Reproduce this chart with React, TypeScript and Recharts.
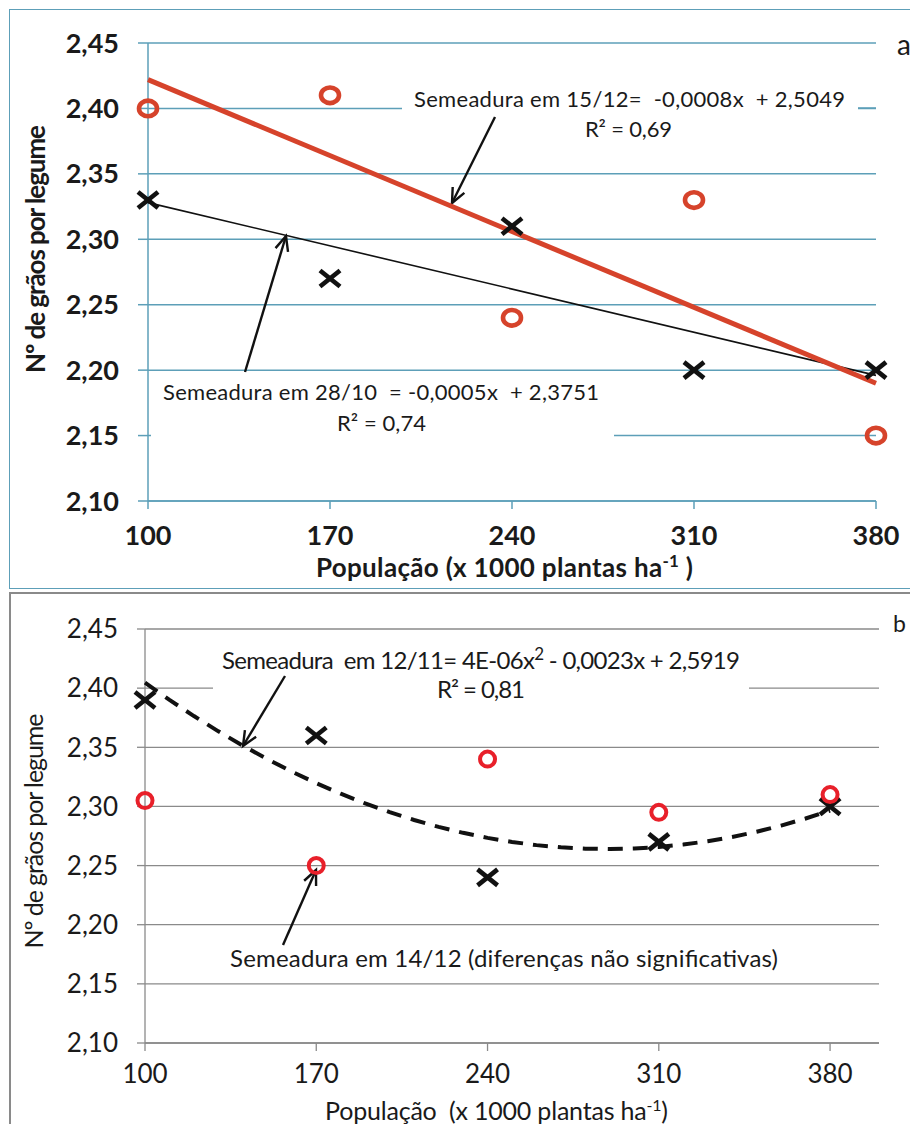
import React from 'react'
import {
  ScatterChart, Scatter, XAxis, YAxis, CartesianGrid, Customized,
} from 'recharts'

// População (x 1000 plantas/ha)
const populacao = [100, 170, 240, 310, 380]

// (a) Nº de grãos por legume
const semeadura2810 = [2.33, 2.27, 2.31, 2.20, 2.20]
const semeadura1512 = [2.40, 2.41, 2.24, 2.33, 2.15]

// (b) Nº de grãos por legume
const semeadura1211 = [2.39, 2.36, 2.24, 2.27, 2.30]
const semeadura1412 = [2.305, 2.25, 2.34, 2.295, 2.31]

const yTicks = [2.10, 2.15, 2.20, 2.25, 2.30, 2.35, 2.40, 2.45]

const FONTE = 'Lato, "Open Sans", sans-serif'
const TEAL = '#5d9fb8'
const CINZA = '#8a8a8a'
const PRE = { whiteSpace: 'pre' } as const

const virgula = (v: number) => v.toFixed(2).replace('.', ',')

const pontos = (ys: number[]) => populacao.map((x, i) => ({ x, y: ys[i] }))

// ajuste linear por mínimos quadrados
function ajusteLinear(xs: number[], ys: number[]) {
  const n = xs.length
  const mx = xs.reduce((a, b) => a + b, 0) / n
  const my = ys.reduce((a, b) => a + b, 0) / n
  let sxy = 0, sxx = 0
  xs.forEach((x, i) => { sxy += (x - mx) * (ys[i] - my); sxx += (x - mx) ** 2 })
  const b = sxy / sxx
  const a = my - b * mx
  return (x: number) => a + b * x
}

// ajuste polinomial de 2º grau (equações normais 3x3)
function ajusteQuadratico(xs: number[], ys: number[]) {
  const s = (p: number) => xs.reduce((acc, x) => acc + x ** p, 0)
  const sy = (p: number) => xs.reduce((acc, x, i) => acc + x ** p * ys[i], 0)
  const M = [
    [xs.length, s(1), s(2), sy(0)],
    [s(1), s(2), s(3), sy(1)],
    [s(2), s(3), s(4), sy(2)],
  ]
  for (let c = 0; c < 3; c++) {
    for (let r = c + 1; r < 3; r++) {
      const f = M[r][c] / M[c][c]
      for (let k = c; k < 4; k++) M[r][k] -= f * M[c][k]
    }
  }
  const coef = [0, 0, 0]
  for (let r = 2; r >= 0; r--) {
    let v = M[r][3]
    for (let k = r + 1; k < 3; k++) v -= M[r][k] * coef[k]
    coef[r] = v / M[r][r]
  }
  return (x: number) => coef[0] + coef[1] * x + coef[2] * x * x
}

const retaA = ajusteLinear(populacao, semeadura1512)
const retaB = ajusteLinear(populacao, semeadura2810)
const curvaC = ajusteQuadratico(populacao, semeadura1211)

const linhaReta = (f: (x: number) => number) => [100, 380].map(x => ({ x, y: f(x) }))
const xsCurva = Array.from({ length: 29 }, (_, i) => 100 + i * 10)
const linhaCurva = xsCurva.map(x => ({ x, y: curvaC(x) }))

const Cruz = ({ cx, cy }: any) => (
  <g stroke="#111" strokeWidth={4.6}>
    <line x1={cx - 10} y1={cy - 8} x2={cx + 10} y2={cy + 8} />
    <line x1={cx - 10} y1={cy + 8} x2={cx + 10} y2={cy - 8} />
  </g>
)

const Anel = ({ cx, cy, cor, rx, ry, w }: any) => (
  <ellipse cx={cx} cy={cy} rx={rx} ry={ry} fill="none" stroke={cor} strokeWidth={w} />
)

const Nada = () => <g />

const Seta = ({ x1, y1, x2, y2 }: any) => {
  const a = Math.atan2(y2 - y1, x2 - x1)
  const h = 16
  const p1 = `${x2 - h * Math.cos(a - 0.42)},${y2 - h * Math.sin(a - 0.42)}`
  const p2 = `${x2 - h * Math.cos(a + 0.42)},${y2 - h * Math.sin(a + 0.42)}`
  return (
    <g stroke="#111" strokeWidth={2.4} fill="none">
      <line x1={x1} y1={y1} x2={x2} y2={y2} />
      <polyline points={`${p1} ${x2},${y2} ${p2}`} />
    </g>
  )
}

// textos e setas do gráfico (a)
const AnotacoesA = () => (
  <g fontFamily={FONTE} fill="#1a1a1a">
    <rect x={402} y={86} width={456} height={58} fill="#fff" />
    <rect x={151} y={378} width={463} height={66} fill="#fff" />
    <text x={414} y={107} fontSize={22} style={PRE} textLength={431} lengthAdjust="spacing">Semeadura em 15/12=  -0,0008x  + 2,5049</text>
    <text x={585} y={137} fontSize={22} textLength={87} lengthAdjust="spacing">R² = 0,69</text>
    <line x1={858} y1={108} x2={876} y2={108} stroke={TEAL} strokeWidth={1.5} />
    <text x={163} y={400} fontSize={22} style={PRE} textLength={436} lengthAdjust="spacing">Semeadura em 28/10  = -0,0005x  + 2,3751</text>
    <text x={337} y={431} fontSize={22} textLength={89} lengthAdjust="spacing">R² = 0,74</text>
    <Seta x1={495} y1={117} x2={452} y2={203} />
    <Seta x1={245} y1={372} x2={286} y2={236} />
    <text x={897} y={55} fontSize={28}>a</text>
    <text x={316} y={577} fontSize={26} fontWeight={700} style={PRE} textLength={377} lengthAdjust="spacing">
      População (x 1000 plantas ha<tspan dy={-10} fontSize={17}>-1</tspan><tspan dy={10}> )</tspan>
    </text>
    <text x={35} y={249} fontSize={26} fontWeight={700} textAnchor="middle" dominantBaseline="central"
      textLength={248} lengthAdjust="spacing" transform="rotate(-90 35 249)">
      Nº de grãos por legume
    </text>
  </g>
)

// textos e setas do gráfico (b), coordenadas do próprio svg
const AnotacoesB = () => (
  <g fontFamily={FONTE} fill="#1a1a1a">
    <rect x={213} y={48} width={536} height={67} fill="#fff" />
    <text x={222} y={79} fontSize={24} style={PRE} textLength={518} lengthAdjust="spacing">
      Semeadura  em 12/11= 4E-06x<tspan dy={-9} fontSize={17}>2</tspan><tspan dy={9}> - 0,0023x + 2,5919</tspan>
    </text>
    <text x={437} y={108} fontSize={24} textLength={88} lengthAdjust="spacing">R² = 0,81</text>
    <Seta x1={285} y1={86} x2={243} y2={156} />
    <text x={230} y={377} fontSize={24} textLength={548} lengthAdjust="spacing">Semeadura em 14/12 (diferenças não significativas)</text>
    <Seta x1={283} y1={355} x2={316} y2={280} />
    <text x={893} y={42} fontSize={23}>b</text>
    <text x={325} y={530} fontSize={25} style={PRE} textLength={343} lengthAdjust="spacing">
      População  (x 1000 plantas ha<tspan dy={-9} fontSize={16}>-1</tspan><tspan dy={9}>)</tspan>
    </text>
    <text x={33} y={241} fontSize={25} textAnchor="middle" dominantBaseline="central"
      textLength={235} lengthAdjust="spacing" transform="rotate(-90 33 241)">
      Nº de grãos por legume
    </text>
  </g>
)

export default function App() {
  return (
    <div style={{ position: 'absolute', left: 0, top: 0, width: 910, height: 1124, overflow: 'hidden', background: '#fff' }}>
      {/* (a) */}
      <div style={{ position: 'absolute', left: 0, top: 0, width: 910, height: 590 }}>
        <div style={{ position: 'absolute', left: 9, top: 9, width: 910, height: 578, border: `1.5px solid ${TEAL}` }} />
        <ScatterChart width={910} height={590} margin={{ top: 43, right: 34, bottom: 0, left: 0 }}>
          <CartesianGrid vertical={false} stroke={TEAL} strokeWidth={1.5} />
          <XAxis
            type="number" dataKey="x" domain={[100, 380]} ticks={populacao} height={89}
            stroke={TEAL} strokeWidth={1.5} tickSize={8} tickMargin={17}
            tick={{ fontSize: 27, fontWeight: 700, fill: '#1a1a1a', fontFamily: FONTE }}
          />
          <YAxis
            type="number" dataKey="y" domain={[2.1, 2.45]} ticks={yTicks} width={148}
            stroke={TEAL} strokeWidth={1.5} tickSize={10} tickMargin={19} tickFormatter={virgula}
            tick={{ fontSize: 27, fontWeight: 700, fill: '#1a1a1a', fontFamily: FONTE }}
          />
          <Customized component={AnotacoesA} />
          <Scatter data={linhaReta(retaB)} shape={Nada} line={{ stroke: '#111', strokeWidth: 1.6 }} lineType="joint" isAnimationActive={false} />
          <Scatter data={linhaReta(retaA)} shape={Nada} line={{ stroke: '#d6432b', strokeWidth: 5 }} lineType="joint" isAnimationActive={false} />
          <Scatter data={pontos(semeadura2810)} shape={(p: any) => <Cruz {...p} />} isAnimationActive={false} />
          <Scatter data={pontos(semeadura1512)} shape={(p: any) => <Anel {...p} cor="#d6432b" rx={9} ry={7.8} w={4.6} />} isAnimationActive={false} />
        </ScatterChart>
      </div>

      {/* (b) */}
      <div style={{ position: 'absolute', left: 0, top: 590, width: 910, height: 534 }}>
        <div style={{ position: 'absolute', left: 9, top: 2, width: 910, height: 540, border: `2px solid ${CINZA}` }} />
        <ScatterChart width={910} height={534} margin={{ top: 39, right: 31, bottom: 0, left: 0 }}>
          <CartesianGrid vertical={false} stroke={CINZA} strokeWidth={1.3} />
          <XAxis
            type="number" dataKey="x" domain={[100, 400]} ticks={populacao} height={81}
            stroke={CINZA} strokeWidth={1.3} tickSize={8} tickMargin={14}
            tick={{ fontSize: 26, fill: '#1a1a1a', fontFamily: FONTE }}
          />
          <YAxis
            type="number" dataKey="y" domain={[2.1, 2.45]} ticks={yTicks} width={145}
            stroke={CINZA} strokeWidth={1.3} tickSize={8} tickMargin={19} tickFormatter={virgula}
            tick={{ fontSize: 26, fill: '#1a1a1a', fontFamily: FONTE }}
          />
          <Customized component={AnotacoesB} />
          <Scatter data={linhaCurva} shape={Nada} line={{ stroke: '#111', strokeWidth: 4, strokeDasharray: '15 10' }} lineType="joint" isAnimationActive={false} />
          <Scatter data={pontos(semeadura1211)} shape={(p: any) => <Cruz {...p} />} isAnimationActive={false} />
          <Scatter data={pontos(semeadura1412)} shape={(p: any) => <Anel {...p} cor="#e8202a" rx={7.5} ry={7.5} w={4} />} isAnimationActive={false} />
        </ScatterChart>
      </div>
    </div>
  )
}
